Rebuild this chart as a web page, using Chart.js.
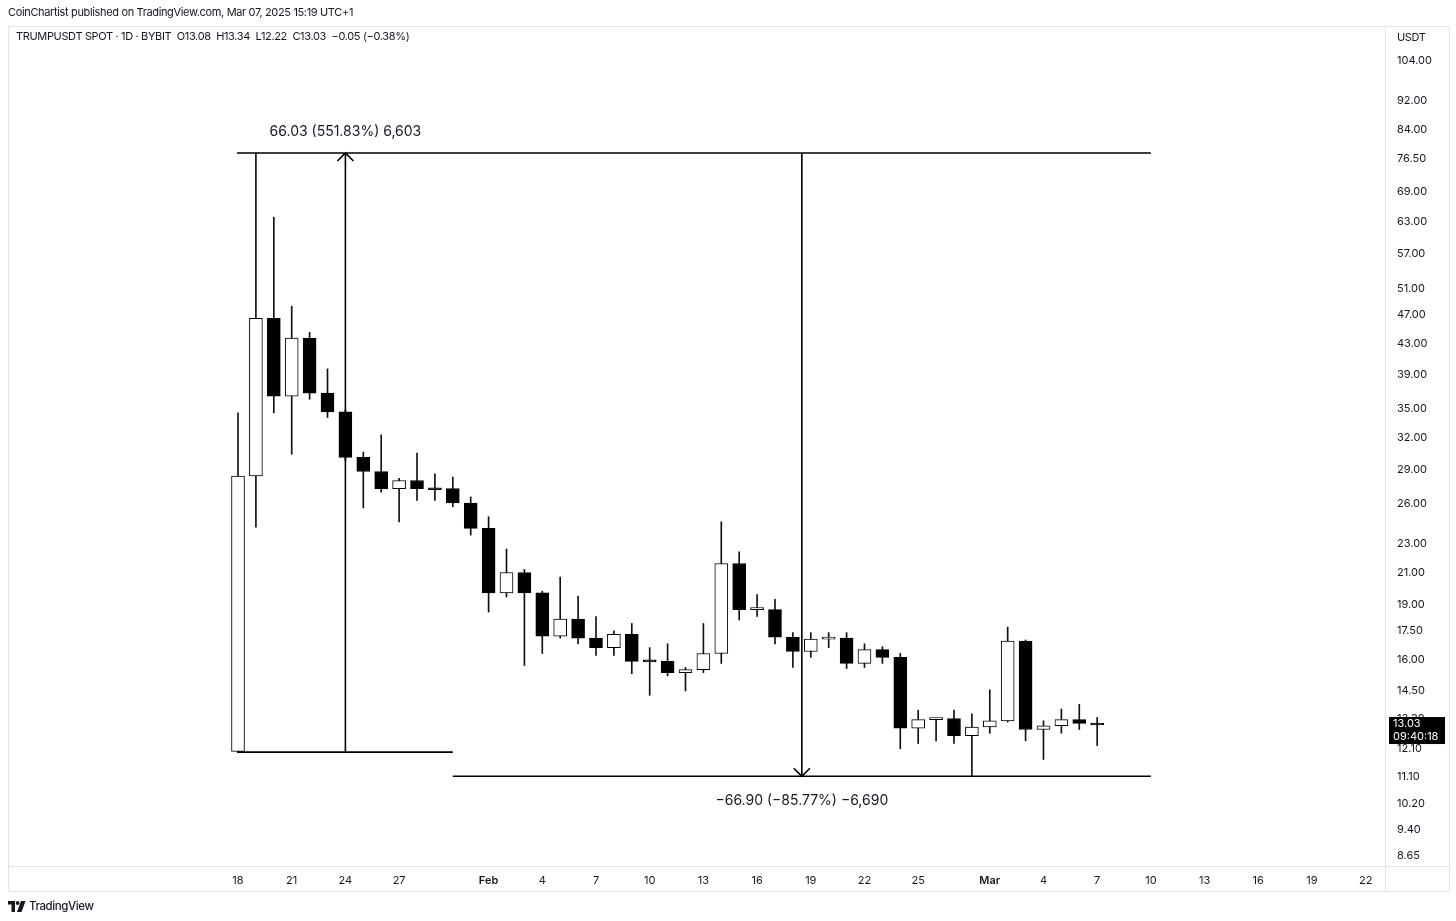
<!DOCTYPE html>
<html>
<head>
<meta charset="utf-8">
<script src="https://cdn.jsdelivr.net/npm/chart.js@4.4.1/dist/chart.umd.min.js"></script>
<style>
  body { margin: 0; background: #fff; font-family: Inter, "Noto Sans", sans-serif; color: #131722; }
  #wrap { position: relative; width: 1456px; height: 921px; overflow: hidden; }
  canvas { position: absolute; left: 0; top: 0; }
  .txt { position: absolute; white-space: pre; font-size: 11px; line-height: 13px; letter-spacing: -0.35px; }
</style>
</head>
<body>
<div id="wrap">
  <canvas id="chart" width="1456" height="921"></canvas>
  <div class="txt" style="left:8px; top:6px;">CoinChartist published on TradingView.com, Mar 07, 2025 15:19 UTC+1</div>
  <div class="txt" style="left:16px; top:30px;">TRUMPUSDT SPOT · 1D · BYBIT  O13.08  H13.34  L12.22  C13.03  −0.05 (−0.38%)</div>
  <div class="txt" style="left:1397px; top:31px;">USDT</div>
  <svg style="position:absolute; left:8px; top:901px;" width="18" height="11" viewBox="0 0 18 11">
    <path d="M0 0 H7 V11 H3.5 V3.5 H0 Z" fill="#131722"/>
    <circle cx="9.6" cy="2" r="1.9" fill="#131722"/>
    <path d="M13 0 H17.5 L13.5 11 H9 Z" fill="#131722"/>
  </svg>
  <div class="txt" style="left:29px; top:899px; font-size:11.5px; line-height:14px; font-weight:500; letter-spacing:-0.4px;">TradingView</div>
</div>
<script>
// daily candles, Jan 18 .. Mar 7 2025 (day index 0 = Jan 18)
const dates = [
  'Jan 18','Jan 19','Jan 20','Jan 21','Jan 22','Jan 23','Jan 24','Jan 25','Jan 26','Jan 27',
  'Jan 28','Jan 29','Jan 30','Jan 31','Feb 1','Feb 2','Feb 3','Feb 4','Feb 5','Feb 6',
  'Feb 7','Feb 8','Feb 9','Feb 10','Feb 11','Feb 12','Feb 13','Feb 14','Feb 15','Feb 16',
  'Feb 17','Feb 18','Feb 19','Feb 20','Feb 21','Feb 22','Feb 23','Feb 24','Feb 25','Feb 26',
  'Feb 27','Feb 28','Mar 1','Mar 2','Mar 3','Mar 4','Mar 5','Mar 6','Mar 7'
];
const open = [
  12.0, 28.4, 46.5, 36.45, 43.7, 36.8, 34.7, 30.1, 28.8, 27.3,
  28.0, 27.3, 27.3, 26.1, 24.1, 19.7, 21.0, 19.7, 17.2, 18.15,
  17.1, 16.6, 17.3, 15.9, 15.9, 15.35, 15.5, 16.3, 21.6, 18.7,
  18.7, 17.15, 16.4, 17.05, 17.1, 15.8, 16.5, 16.1, 12.9, 13.25,
  13.3, 12.6, 12.95, 13.2, 16.95, 12.85, 13.0, 13.25, 13.08
];
const high = [
  34.6, 78.0, 63.8, 48.3, 44.5, 39.7, 34.9, 30.6, 32.3, 28.2,
  30.5, 28.6, 28.3, 26.6, 25.0, 22.6, 21.2, 19.8, 20.7, 19.5,
  18.3, 17.5, 17.9, 16.6, 16.8, 15.6, 17.9, 24.6, 22.4, 19.6,
  19.3, 17.4, 17.4, 17.4, 17.4, 16.8, 16.65, 16.3, 13.65, 13.3,
  13.65, 13.5, 14.55, 17.7, 17.0, 13.2, 13.7, 13.9, 13.34
];
const low = [
  11.97, 24.2, 34.6, 30.4, 36.1, 34.1, 29.8, 25.7, 27.0, 24.6,
  26.3, 26.3, 25.8, 23.6, 18.55, 19.45, 15.7, 16.3, 17.1, 16.8,
  16.2, 16.2, 15.3, 14.3, 15.2, 14.5, 15.35, 15.8, 18.1, 18.3,
  16.8, 15.6, 16.1, 16.6, 15.55, 15.6, 15.8, 12.1, 12.3, 12.4,
  12.3, 11.1, 12.7, 13.15, 12.4, 11.7, 12.7, 12.85, 12.22
];
const close = [
  28.4, 46.5, 36.45, 43.7, 36.8, 34.7, 30.1, 28.8, 27.3, 28.0,
  27.3, 27.2, 26.1, 24.1, 19.7, 21.0, 19.7, 17.2, 18.15, 17.1,
  16.6, 17.3, 15.9, 15.88, 15.35, 15.5, 16.3, 21.6, 18.7, 18.75,
  17.15, 16.4, 17.05, 17.1, 15.8, 16.5, 16.1, 12.9, 13.25, 13.28,
  12.6, 12.95, 13.2, 16.95, 12.85, 13.0, 13.25, 13.1, 13.03
];

// axis ticks
const xTickDays = [0, 3, 6, 9, 14, 17, 20, 23, 26, 29, 32, 35, 38, 42, 45, 48, 51, 54, 57, 60, 63];
const xTickLabels = ['18','21','24','27','Feb','4','7','10','13','16','19','22','25','Mar','4','7','10','13','16','19','22'];
const yTickValues = [104, 92, 84, 76.5, 69, 63, 57, 51, 47, 43, 39, 35, 32, 29, 26, 23, 21, 19, 17.5, 16, 14.5, 13.3, 12.1, 11.1, 10.2, 9.4, 8.65];

// price range measurements drawn on the chart
const measureUp = { from: 0, to: 12, at: 6, low: 11.97, high: 78.0, text: '66.03 (551.83%) 6,603' };
const measureDown = { from: 12, to: 51, at: 31.5, low: 11.10, high: 78.0, text: '−66.90 (−85.77%) −6,690' };
const lastPrice = 13.03;
const countdown = '09:40:18';

const FONT = 'Inter, "Noto Sans", sans-serif';
const INK = '#131722';
const FRAME = '#e0e3eb';

const wickData = dates.map((d, i) => ({ x: i, y: [low[i], high[i]] }));
const bodyData = dates.map((d, i) => ({ x: i, y: [Math.min(open[i], close[i]), Math.max(open[i], close[i])] }));
const isUp = dates.map((d, i) => close[i] >= open[i]);

const overlay = {
  id: 'overlay',
  afterDraw(chart) {
    const { ctx, scales: { x, y } } = chart;
    ctx.save();

    // pane frame
    ctx.strokeStyle = FRAME;
    ctx.lineWidth = 1;
    ctx.beginPath();
    ctx.moveTo(8.5, 26.5); ctx.lineTo(1449.5, 26.5);
    ctx.moveTo(8.5, 26.5); ctx.lineTo(8.5, 891.5);
    ctx.moveTo(1449.5, 26.5); ctx.lineTo(1449.5, 891.5);
    ctx.moveTo(8.5, 891.5); ctx.lineTo(1449.5, 891.5);
    ctx.moveTo(8.5, 866.5); ctx.lineTo(1449.5, 866.5);
    ctx.moveTo(1385.5, 26.5); ctx.lineTo(1385.5, 891.5);
    ctx.stroke();

    // measurement tools
    ctx.strokeStyle = '#000';
    ctx.lineWidth = 1.6;
    const yTop = y.getPixelForValue(measureUp.high);
    const yLow1 = y.getPixelForValue(measureUp.low);
    const yLow2 = y.getPixelForValue(measureDown.low);
    ctx.beginPath();
    ctx.moveTo(x.getPixelForValue(measureUp.from) - 1, yTop);
    ctx.lineTo(x.getPixelForValue(measureDown.to), yTop);
    ctx.moveTo(x.getPixelForValue(measureUp.from) - 1, yLow1);
    ctx.lineTo(x.getPixelForValue(measureUp.to), yLow1);
    ctx.moveTo(x.getPixelForValue(measureDown.from), yLow2);
    ctx.lineTo(x.getPixelForValue(measureDown.to), yLow2);
    // up arrow
    const xa = x.getPixelForValue(measureUp.at);
    ctx.moveTo(xa, yLow1); ctx.lineTo(xa, yTop);
    ctx.moveTo(xa - 8, yTop + 8); ctx.lineTo(xa, yTop); ctx.lineTo(xa + 8, yTop + 8);
    // down arrow
    const xb = x.getPixelForValue(measureDown.at);
    ctx.moveTo(xb, yTop); ctx.lineTo(xb, yLow2);
    ctx.moveTo(xb - 8, yLow2 - 8); ctx.lineTo(xb, yLow2); ctx.lineTo(xb + 8, yLow2 - 8);
    ctx.stroke();

    ctx.fillStyle = INK;
    ctx.font = '14px ' + FONT;
    ctx.textAlign = 'center';
    ctx.textBaseline = 'middle';
    ctx.fillText(measureUp.text, xa, yTop - 21);
    ctx.fillText(measureDown.text, xb, yLow2 + 25);

    // last price label
    const py = y.getPixelForValue(lastPrice);
    ctx.fillStyle = '#000';
    ctx.fillRect(1389, py - 8, 56, 27);
    ctx.fillStyle = '#fff';
    ctx.font = '11px ' + FONT;
    ctx.textAlign = 'left';
    ctx.fillText(lastPrice.toFixed(2), 1393, py - 1);
    ctx.fillText(countdown, 1393, py + 12);

    ctx.restore();
  }
};

new Chart(document.getElementById('chart'), {
  type: 'bar',
  data: {
    datasets: [
      {
        label: 'wick',
        data: wickData,
        backgroundColor: '#111',
        borderWidth: 0,
        grouped: false,
        barThickness: 1,
        maxBarThickness: 1,
        order: 2
      },
      {
        label: 'body',
        data: bodyData,
        backgroundColor: isUp.map(u => u ? '#fff' : '#000'),
        borderColor: '#000',
        borderWidth: 1,
        borderSkipped: false,
        grouped: false,
        barThickness: 13,
        maxBarThickness: 13,
        minBarLength: 2,
        order: 1
      }
    ]
  },
  options: {
    responsive: false,
    animation: false,
    devicePixelRatio: 1,
    layout: { padding: { left: 8, top: 27, right: 7, bottom: 30 } },
    plugins: { legend: { display: false }, tooltip: { enabled: false } },
    scales: {
      x: {
        type: 'linear',
        min: -12.85,
        max: 64.08,
        offset: false,
        bounds: 'data',
        grid: { display: false, drawTicks: false, offset: false },
        border: { display: false },
        afterFit: s => { s.height = 25; },
        afterBuildTicks: s => { s.ticks = xTickDays.map(v => ({ value: v })); },
        ticks: {
          autoSkip: false,
          maxRotation: 0,
          padding: 8,
          color: INK,
          font: c => ({ family: FONT, size: 11, weight: /[A-Za-z]/.test(xTickLabels[c.index] || '') ? '600' : 'normal' }),
          callback: (v, i) => xTickLabels[i]
        }
      },
      y: {
        type: 'logarithmic',
        position: 'right',
        min: 8.384,
        max: 115.67,
        bounds: 'data',
        grid: { display: false, drawTicks: false },
        border: { display: false },
        afterFit: s => { s.width = 64; },
        afterBuildTicks: s => { s.ticks = yTickValues.map(v => ({ value: v })); },
        ticks: {
          autoSkip: false,
          padding: 12,
          color: INK,
          font: { family: FONT, size: 11 },
          callback: v => Number(v).toFixed(2)
        }
      }
    }
  },
  plugins: [overlay]
});
</script>
</body>
</html>
